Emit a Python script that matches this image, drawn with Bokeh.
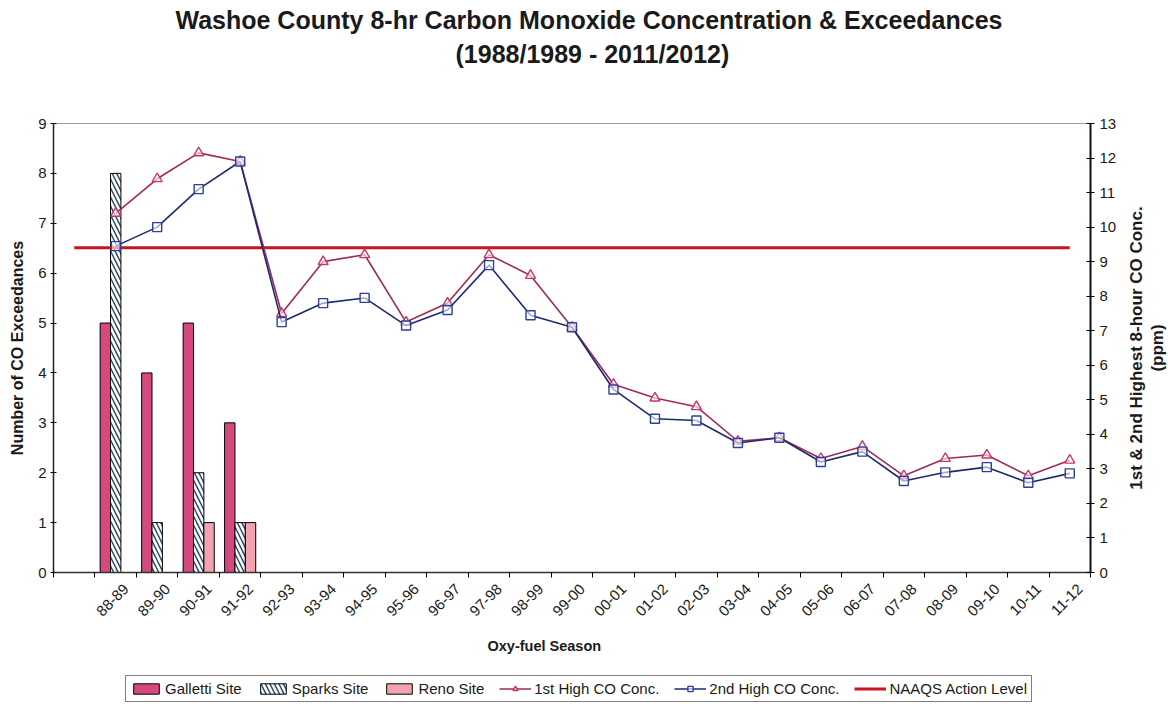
import math
import numpy as np
from bokeh.plotting import figure
from bokeh.layouts import column, row
from bokeh.models import (Range1d, LinearAxis, FixedTicker, Legend, LegendItem,
                          Title, ColumnDataSource)
from bokeh.transform import dodge
from bokeh.embed import file_html
from bokeh.resources import INLINE

# ---------------- data ----------------
# first category slot is empty in the original chart
seasons = ["", "88-89", "89-90", "90-91", "91-92", "92-93", "93-94", "94-95",
           "95-96", "96-97", "97-98", "98-99", "99-00", "00-01", "01-02",
           "02-03", "03-04", "04-05", "05-06", "06-07", "07-08", "08-09",
           "09-10", "10-11", "11-12"]

galletti = [None, 5, 4, 5, 3] + [None] * 20
sparks = [None, 8, 1, 2, 1] + [None] * 20
reno = [None, 0, 0, 1, 1] + [None] * 20

first_high = [None, 10.4, 11.4, 12.15, 11.9, 7.5, 9.0, 9.2, 7.25, 7.8, 9.2,
              8.6, 7.1, 5.45, 5.05, 4.8, 3.8, 3.9, 3.3, 3.65, 2.8, 3.3, 3.4,
              2.8, 3.25]
second_high = [None, 9.45, 10.0, 11.1, 11.9, 7.25, 7.8, 7.95, 7.15, 7.6, 8.9,
               7.45, 7.1, 5.3, 4.45, 4.4, 3.75, 3.9, 3.2, 3.5, 2.65, 2.9,
               3.05, 2.6, 2.87]
naaqs = [9.4, 9.4, 9.4, 9.4, 9.4, 9.4, 9.4, 9.4, 9.4, 9.4, 9.4, 9.4, 9.4,
         9.4, 9.4, 9.4, 9.4, 9.4, 9.4, 9.4, 9.4, 9.4, 9.4, 9.4, 9.4]

left_ticks = [0, 1, 2, 3, 4, 5, 6, 7, 8, 9]
right_ticks = [0, 1, 2, 3, 4, 5, 6, 7, 8, 9, 10, 11, 12, 13]

legend_labels = ["Galletti Site", "Sparks Site", "Reno Site",
                 "1st High CO Conc.", "2nd High CO Conc.", "NAAQS Action Level"]

# ---------------- styling ----------------
FONT = "Liberation Sans"
C_GALLETTI = "#D6497F"
C_RENO = "#F3A3B0"
C_HATCH = "#2F4C66"
C_FIRST_LINE = "#A02A55"
C_FIRST_MARK = "#C8356C"
C_SECOND_LINE = "#1E2A6E"
C_SECOND_MARK = "#2C3F9C"
C_NAAQS = "#C8141E"
TXT = "#1a1a1a"

BAR_G = dict(fill_color=C_GALLETTI, line_color="black", line_width=1)
BAR_S = dict(fill_color="white", line_color="black", line_width=1,
             hatch_pattern="\\", hatch_color=C_HATCH, hatch_scale=9,
             hatch_weight=1.5)
BAR_R = dict(fill_color=C_RENO, line_color="black", line_width=1)
LINE_1 = dict(line_color=C_FIRST_LINE, line_width=1.6)
MARK_1 = dict(marker="triangle", size=10, fill_color="white", fill_alpha=0.6,
              line_color=C_FIRST_MARK, line_width=1.4)
LINE_2 = dict(line_color=C_SECOND_LINE, line_width=1.6)
MARK_2 = dict(marker="square", size=9, fill_color="white", fill_alpha=0.6,
              line_color=C_SECOND_MARK, line_width=1.4)
LINE_N = dict(line_color=C_NAAQS, line_width=3)

n = len(seasons)
centers = [i + 0.5 for i in range(n)]
label_pos = [c + 0.25 for c in centers]   # rotated labels sit right of centre

src = ColumnDataSource(dict(
    x=centers,
    galletti=np.array(galletti, dtype=float),
    sparks=np.array(sparks, dtype=float),
    reno=np.array(reno, dtype=float),
    first=np.array(first_high, dtype=float),
    second=np.array(second_high, dtype=float),
    naaqs=np.array(naaqs, dtype=float),
))


def mk_title(text, size, bold=True, standoff=4, align="center", offset=0):
    t = Title(text=text, align=align, offset=offset, text_font=FONT,
              text_font_size=size, text_color=TXT,
              text_font_style="bold" if bold else "normal")
    try:
        t.standoff = standoff
    except Exception:
        pass
    return t


TOP, FH, BOT = 123, 449, 100
p = figure(frame_width=1037, frame_height=FH, output_backend="svg",
           toolbar_location=None,
           x_range=Range1d(0, n), y_range=Range1d(0, 9),
           min_border_left=53, min_border_right=30, min_border_top=TOP,
           min_border_bottom=BOT, background_fill_color="white",
           border_fill_color="white")
p.outline_line_color = "#9a9a9a"
p.outline_line_width = 1
p.xgrid.visible = False
p.ygrid.visible = False

p.extra_y_ranges = {"conc": Range1d(0, 13)}

# titles (first added = nearest the frame)
p.add_layout(mk_title(" ", "43px", bold=False), "above")
p.add_layout(mk_title("(1988/1989 - 2011/2012)", "25px", align="left",
                      offset=402), "above")
p.add_layout(mk_title("Washoe County 8-hr Carbon Monoxide Concentration & Exceedances",
                      "25px", align="left", offset=122), "above")

# bars
bw = 0.25
p.vbar(x=dodge("x", -0.25, range=p.x_range), top="galletti", width=bw,
       source=src, **BAR_G)
p.vbar(x=dodge("x", 0.0, range=p.x_range), top="sparks", width=bw,
       source=src, **BAR_S)
p.vbar(x=dodge("x", 0.25, range=p.x_range), top="reno", width=bw,
       source=src, **BAR_R)

# NAAQS
p.line("x", "naaqs", source=src, y_range_name="conc", **LINE_N)

# lines
p.line("x", "first", source=src, y_range_name="conc", **LINE_1)
p.scatter("x", "first", source=src, y_range_name="conc", **MARK_1)
p.line("x", "second", source=src, y_range_name="conc", **LINE_2)
p.scatter("x", "second", source=src, y_range_name="conc", **MARK_2)

# x axis: boundary ticks as minor ticks, labels at (shifted) centres
xa = p.xaxis[0]
xa.ticker = FixedTicker(ticks=label_pos, minor_ticks=list(range(n + 1)))
xa.major_label_overrides = {c: s for c, s in zip(label_pos, seasons)}
xa.major_label_orientation = math.pi / 4
xa.major_tick_in = 0
xa.major_tick_out = 0
xa.minor_tick_in = 0
xa.minor_tick_out = 5
xa.minor_tick_line_color = "black"
xa.axis_line_color = "#333333"
xa.axis_line_width = 1.5
xa.major_label_text_font = FONT
xa.major_label_text_font_size = "15px"
xa.major_label_text_color = TXT
xa.major_label_standoff = 9

# x axis title, placed as a below-title so it can sit left of centre
p.add_layout(mk_title("Oxy-fuel Season", "14.5px", align="left", offset=434,
                      standoff=24), "below")

# left axis
ya = p.yaxis[0]
ya.ticker = FixedTicker(ticks=left_ticks)
ya.minor_tick_line_color = None
ya.major_tick_in = 3
ya.major_tick_out = 3
ya.axis_line_color = "#222222"
ya.axis_line_width = 1.5
ya.major_label_text_font = FONT
ya.major_label_text_font_size = "15px"
ya.major_label_text_color = TXT
ya.major_label_standoff = 4
ya.axis_label = "Number of CO Exceedances"
ya.axis_label_text_font = FONT
ya.axis_label_text_font_size = "16px"
ya.axis_label_text_font_style = "bold"
ya.axis_label_text_color = TXT
ya.axis_label_standoff = 9

# right axis
ra = LinearAxis(y_range_name="conc", ticker=FixedTicker(ticks=right_ticks))
ra.minor_tick_line_color = None
ra.major_tick_in = 4
ra.major_tick_out = 4
ra.axis_line_color = "#111111"
ra.axis_line_width = 2
ra.major_label_text_font = FONT
ra.major_label_text_font_size = "15px"
ra.major_label_text_color = TXT
ra.major_label_standoff = 5
p.add_layout(ra, "right")

# ---- right-hand strip carrying the right axis title (reads bottom-to-top) ----
side = figure(width=48, height=TOP + FH + BOT, output_backend="svg",
              toolbar_location=None, x_axis_type=None, y_axis_type=None,
              min_border_left=0, min_border_right=0, min_border_top=TOP,
              min_border_bottom=BOT, background_fill_color="white",
              border_fill_color="white")
side.outline_line_color = None
side.grid.visible = False
side.add_layout(mk_title("(ppm)", "17px", standoff=0), "left")
side.add_layout(mk_title("1st & 2nd Highest 8-hour CO Conc.", "17px",
                         standoff=0), "left")
side.add_layout(mk_title(" ", "1px", bold=False, standoff=1), "left")

# ---- legend strip under the chart ----
leg = figure(width=1168, height=37, output_backend="svg", toolbar_location=None,
             x_axis_type=None, y_axis_type=None, min_border=0,
             x_range=Range1d(-100, -99), y_range=Range1d(-100, -99),
             background_fill_color="white", border_fill_color="white")
leg.outline_line_color = None
leg.grid.visible = False
# legend swatches: the same series/styling, kept outside this strip's ranges
sw = [leg.vbar(x="x", top="galletti", width=bw, source=src, **BAR_G),
      leg.vbar(x="x", top="sparks", width=bw, source=src, **BAR_S),
      leg.vbar(x="x", top="reno", width=bw, source=src, **BAR_R),
      [leg.line("x", "first", source=src, **LINE_1),
       leg.scatter("x", "first", source=src, **MARK_1)],
      [leg.line("x", "second", source=src, **LINE_2),
       leg.scatter("x", "second", source=src, **MARK_2)],
      leg.line("x", "naaqs", source=src, **LINE_N)]
items = [LegendItem(label=lab, renderers=r if isinstance(r, list) else [r])
         for lab, r in zip(legend_labels, sw)]
legend = Legend(items=items, orientation="horizontal", location=(125, 7),
                border_line_color="black", border_line_width=1,
                background_fill_color="white", background_fill_alpha=1.0,
                label_text_font=FONT, label_text_font_size="15px",
                label_text_color=TXT, glyph_width=32, glyph_height=13,
                label_standoff=3, spacing=15, padding=4, margin=0,
                label_height=16)
leg.add_layout(legend, "center")

page = column(row(p, side, spacing=0), leg, spacing=0)
open("out.html", "w").write(file_html(page, INLINE))
